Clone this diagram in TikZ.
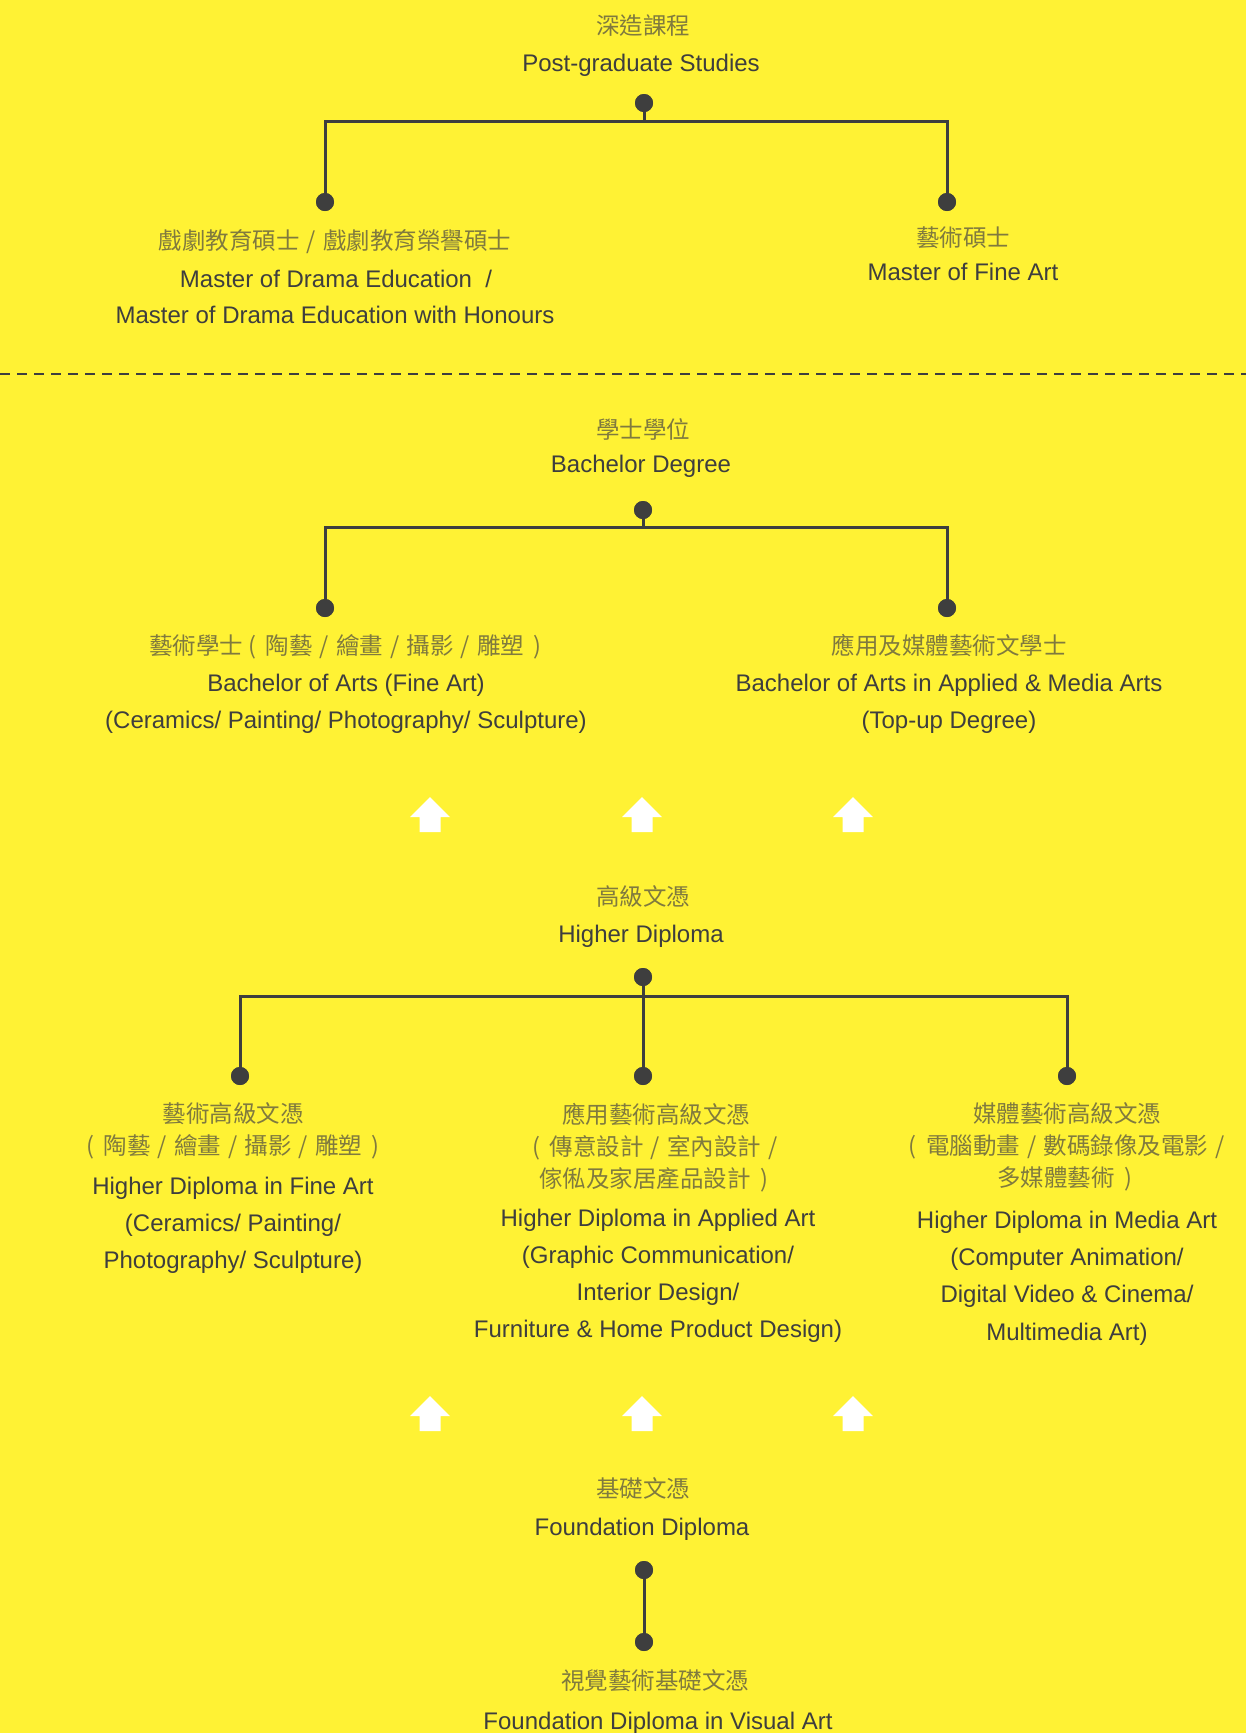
\documentclass[tikz,border=0pt]{standalone}
\usepackage{fontspec}
\setmainfont{Liberation Sans}
\newfontfamily\cjk{Noto Sans CJK TC}
\definecolor{bgyellow}{RGB}{255,242,52}
\definecolor{txt}{RGB}{62,62,62}
\definecolor{zhtxt}{RGB}{128,122,62}
\definecolor{linec}{RGB}{62,62,62}
\newcommand{\zsl}{\makebox[1.0em]{/}}
\newcommand{\zlp}{\makebox[0.95em][l]{\hspace{0.2em}(}}
\newcommand{\zrp}{\makebox[0.95em][r]{)\hspace{0.2em}}}
\tikzset{
  en/.style={font=\fontsize{24}{28}\selectfont, text=txt, anchor=base, inner sep=0pt},
  zh/.style={font=\cjk\fontsize{23.5}{28}\selectfont, text=zhtxt, anchor=base, inner sep=0pt},
  dot/.style={circle, fill=linec, minimum size=18pt, inner sep=0pt},
  conn/.style={draw=linec, line width=3pt},
  uparrow/.style={fill=white, draw=none},
}
\begin{document}
\begin{tikzpicture}[x=1pt, y=-1pt]
\fill[bgyellow] (0,0) rectangle (1246,1733);
\useasboundingbox (0,0) rectangle (1246,1733);

% ---------------- Post-graduate ----------------
\node[zh] (pgzh) at (643,34) {深造課程};
\node[en] (pgen) at (641,71) {Post-graduate Studies};
\coordinate (pgbar) at (644,121);
\node[dot] (pgd) at (644,103) {};
\node[dot] (mde) at (325,202) {};
\node[dot] (mfa) at (947,202) {};
\draw[conn] (pgd.center) -- (pgbar);
\draw[conn] (mde.center) -- (mde.center |- pgbar) -- (mfa.center |- pgbar) -- (mfa.center);
\node[dot] at (pgd) {};
\node[dot] at (mde) {};
\node[dot] at (mfa) {};

\node[zh] (mdezh) at (335,249) {戲劇教育碩士\zsl 戲劇教育榮譽碩士};
\node[en] (mdeen1) at (336,287) {Master of Drama Education\ \ /};
\node[en] (mdeen2) at (335,323) {Master of Drama Education with Honours};
\node[zh] (mfazh) at (963,246) {藝術碩士};
\node[en] (mfaen) at (963,280) {Master of Fine Art};

% dashed separator
\coordinate (sepL) at (0,374);
\coordinate (sepR) at (1246,374);
\draw[draw=linec, line width=2.2pt, dash pattern=on 10pt off 7pt] (sepL) -- (sepR);

% ---------------- Bachelor ----------------
\node[zh] (bazh) at (643,438) {學士學位};
\node[en] (baen) at (641,472) {Bachelor Degree};
\coordinate (babar) at (643,527);
\node[dot] (bad) at (643,510) {};
\node[dot] (bfa) at (325,608) {};
\node[dot] (bam) at (947,608) {};
\draw[conn] (bad.center) -- (babar);
\draw[conn] (bfa.center) -- (bfa.center |- babar) -- (bam.center |- babar) -- (bam.center);
\node[dot] at (bad) {};
\node[dot] at (bfa) {};
\node[dot] at (bam) {};

\node[zh] (bfazh) at (348,654) {藝術學士\zlp 陶藝\zsl 繪畫\zsl 攝影\zsl 雕塑\zrp};
\node[en] (bfaen1) at (346,691) {Bachelor of Arts (Fine Art)};
\node[en] (bfaen2) at (346,728) {(Ceramics/ Painting/ Photography/ Sculpture)};
\node[zh] (bamzh) at (949,654) {應用及媒體藝術文學士};
\node[en] (bamen1) at (949,691) {Bachelor of Arts in Applied \& Media Arts};
\node[en] (bamen2) at (949,728) {(Top-up Degree)};

% arrows row 1
\foreach \cx in {430,642,853}{
  \fill[uparrow] (\cx,797) -- (\cx+20,817) -- (\cx+10.5,817) -- (\cx+10.5,832)
     -- (\cx-10.5,832) -- (\cx-10.5,817) -- (\cx-20,817) -- cycle;
}

% ---------------- Higher Diploma ----------------
\node[zh] (hdzh) at (643,905) {高級文憑};
\node[en] (hden) at (641,942) {Higher Diploma};
\coordinate (hdbar) at (643,996);
\node[dot] (hdd) at (643,977) {};
\node[dot] (hfa) at (240,1076) {};
\node[dot] (haa) at (643,1076) {};
\node[dot] (hma) at (1067,1076) {};
\draw[conn] (hdd.center) -- (haa.center);
\draw[conn] (hfa.center) -- (hfa.center |- hdbar) -- (hma.center |- hdbar) -- (hma.center);
\node[dot] at (hdd) {};
\node[dot] at (hfa) {};
\node[dot] at (haa) {};
\node[dot] at (hma) {};

\node[zh] (hfazh1) at (233,1122) {藝術高級文憑};
\node[zh] (hfazh2) at (233,1154) {\zlp 陶藝\zsl 繪畫\zsl 攝影\zsl 雕塑\zrp};
\node[en] (hfaen1) at (233,1194) {Higher Diploma in Fine Art};
\node[en] (hfaen2) at (233,1231) {(Ceramics/ Painting/};
\node[en] (hfaen3) at (233,1268) {Photography/ Sculpture)};

\node[zh] (haazh1) at (656,1123) {應用藝術高級文憑};
\node[zh] (haazh2) at (656,1155) {\zlp 傳意設計\zsl 室內設計\zsl};
\node[zh] (haazh3) at (656,1187) {傢俬及家居產品設計\zrp};
\node[en] (haaen1) at (658,1226) {Higher Diploma in Applied Art};
\node[en] (haaen2) at (658,1263) {(Graphic Communication/};
\node[en] (haaen3) at (658,1300) {Interior Design/};
\node[en] (haaen4) at (658,1337) {Furniture \& Home Product Design)};

\node[zh] (hmazh1) at (1067,1122) {媒體藝術高級文憑};
\node[zh] (hmazh2) at (1068,1154) {\zlp 電腦動畫\zsl 數碼錄像及電影\zsl};
\node[zh] (hmazh3) at (1067,1186) {多媒體藝術\zrp};
\node[en] (hmaen1) at (1067,1228) {Higher Diploma in Media Art};
\node[en] (hmaen2) at (1067,1265) {(Computer Animation/};
\node[en] (hmaen3) at (1067,1302) {Digital Video \& Cinema/};
\node[en] (hmaen4) at (1067,1340) {Multimedia Art)};

% arrows row 2
\foreach \cx in {430,642,853}{
  \fill[uparrow] (\cx,1396) -- (\cx+20,1416) -- (\cx+10.5,1416) -- (\cx+10.5,1431)
     -- (\cx-10.5,1431) -- (\cx-10.5,1416) -- (\cx-20,1416) -- cycle;
}

% ---------------- Foundation ----------------
\node[zh] (fdzh) at (643,1497) {基礎文憑};
\node[en] (fden) at (642,1535) {Foundation Diploma};
\node[dot] (fdd) at (644,1570) {};
\node[dot] (fva) at (644,1642) {};
\draw[conn] (fdd.center) -- (fva.center);
\node[dot] at (fdd) {};
\node[dot] at (fva) {};
\node[zh] (fvazh) at (655,1689) {視覺藝術基礎文憑};
\node[en] (fvaen) at (658,1729) {Foundation Diploma in Visual Art};
\end{tikzpicture}
\end{document}
